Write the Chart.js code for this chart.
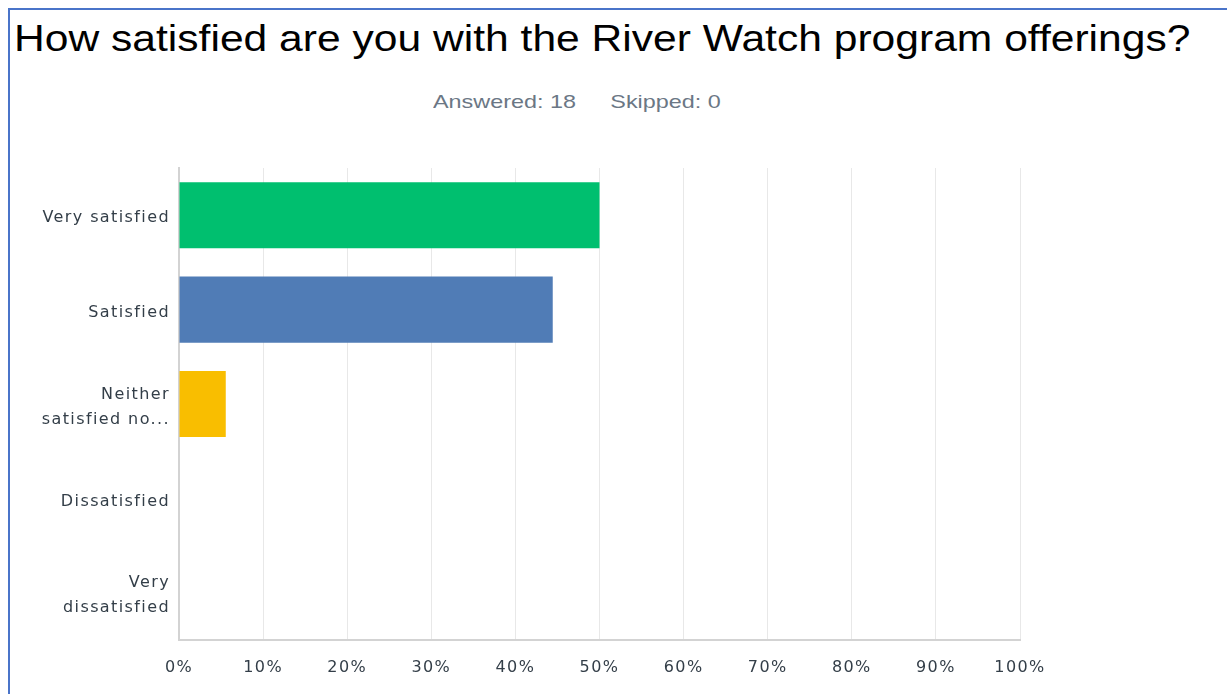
<!DOCTYPE html>
<html>
<head>
<meta charset="utf-8">
<script src="https://cdn.jsdelivr.net/npm/chart.js@4.4.1/dist/chart.umd.min.js"></script>
<style>
  html, body { margin: 0; padding: 0; background: #fff; }
  body { width: 1227px; height: 694px; position: relative; overflow: hidden; }
  #frame {
    position: absolute; left: 8px; top: 8px; right: -10px; bottom: -10px;
    border-left: 2px solid #4a74c9; border-top: 2px solid #4a74c9;
  }
  #title {
    position: absolute; left: 14px; top: 18px; white-space: nowrap;
    font-family: "Liberation Sans", Arial, sans-serif; font-size: 36px; color: #000;
    transform: scaleX(1.183); transform-origin: left top;
  }
  #subtitle {
    position: absolute; left: 433px; top: 91px; white-space: nowrap;
    font-family: "Liberation Sans", Arial, sans-serif; font-size: 19px; color: #6b7785;
    transform: scaleX(1.23); transform-origin: left top;
  }
  #subtitle span { margin-right: 28px; }
  #wrap { position: absolute; left: 0; top: 0; width: 1227px; height: 694px; }
</style>
</head>
<body>
<div id="frame"></div>
<div id="title">How satisfied are you with the River Watch program offerings?</div>
<div id="subtitle"><span>Answered: 18</span>Skipped: 0</div>
<div id="wrap"><canvas id="chart"></canvas></div>
<script>
const categories = [
  "Very satisfied",
  "Satisfied",
  ["Neither", "satisfied no..."],
  "Dissatisfied",
  ["Very", "dissatisfied"]
];
const percentValues = [50.00, 44.44, 5.56, 0, 0];
const barColors = ["#00bf6f", "#507cb6", "#f9be00", "#6bc8cd", "#ff8b4f"];
const xTicks = [0, 10, 20, 30, 40, 50, 60, 70, 80, 90, 100];

const labelFont = { family: "'DejaVu Sans', sans-serif", size: 16, lineHeight: 1.56 };
const labelColor = "#333e48";

// the survey font is wide, so space the tick letters out a bit
const spacing = {
  id: "spacing",
  beforeLayout: chart => { chart.ctx.letterSpacing = "1.4px"; },
  beforeDraw: chart => { chart.ctx.letterSpacing = "1.4px"; }
};

new Chart(document.getElementById("chart"), {
  type: "bar",
  data: {
    labels: categories,
    datasets: [{
      data: percentValues,
      backgroundColor: barColors,
      borderWidth: 0,
      barPercentage: 0.7,
      categoryPercentage: 1.0
    }]
  },
  options: {
    indexAxis: "y",
    responsive: true,
    maintainAspectRatio: false,
    animation: false,
    layout: { padding: { top: 168, right: 207, bottom: 14, left: 0 } },
    plugins: {
      legend: { display: false },
      tooltip: { enabled: false }
    },
    scales: {
      x: {
        min: 0,
        max: 100,
        afterBuildTicks: scale => { scale.ticks = xTicks.map(v => ({ value: v })); },
        afterFit: scale => { scale.height = 40; },
        ticks: {
          callback: v => v + "%",
          font: labelFont,
          color: labelColor,
          padding: 15,
          maxRotation: 0
        },
        grid: { color: "#e8e8e8", drawTicks: false },
        border: { color: "#d3d3d3", width: 2 }
      },
      y: {
        afterFit: scale => { scale.width = 179; },
        ticks: {
          font: labelFont,
          color: labelColor,
          padding: 9,
          labelOffset: 3
        },
        grid: { display: false, drawTicks: false },
        border: { color: "#d3d3d3", width: 2 }
      }
    }
  },
  plugins: [spacing]
});
</script>
</body>
</html>
